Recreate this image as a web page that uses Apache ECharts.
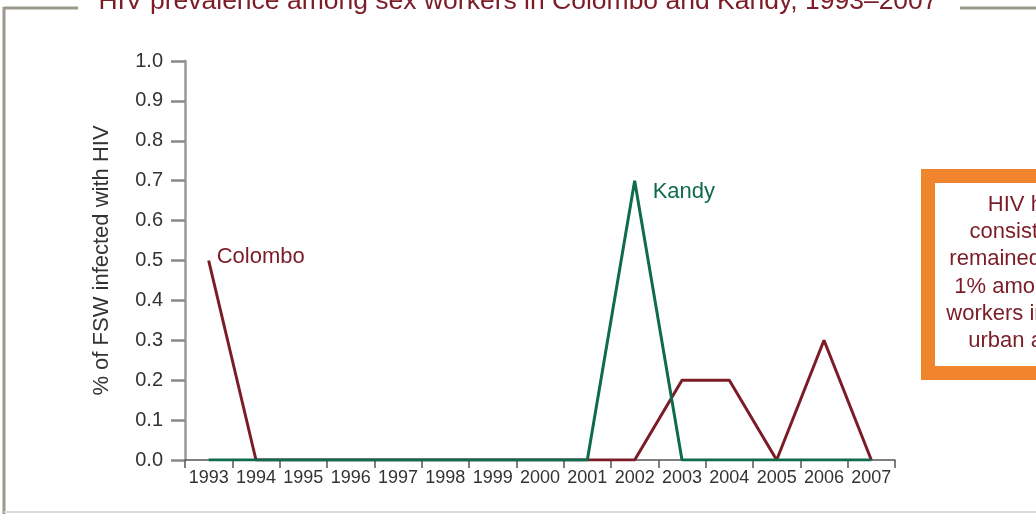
<!DOCTYPE html>
<html>
<head>
<meta charset="utf-8">
<style>
  html, body { margin: 0; padding: 0; background: #fff; }
  #chart { width: 1036px; height: 514px; }
</style>
<script src="https://cdn.jsdelivr.net/npm/echarts@6/dist/echarts.min.js"></script>
</head>
<body>
<div id="chart"></div>
<script>
// data
var years = ['1993', '1994', '1995', '1996', '1997', '1998', '1999', '2000',
             '2001', '2002', '2003', '2004', '2005', '2006', '2007'];
var colombo = [0.5, 0, 0, 0, 0, 0, 0, 0, 0, 0, 0.2, 0.2, 0, 0.3, 0];
var kandy   = [0, 0, 0, 0, 0, 0, 0, 0, 0, 0.7, 0, 0, 0, 0, 0];
var noteLines = ['HIV has', 'consistently', 'remained below', '1% among sex', 'workers in major', 'urban areas'];

var maroon = '#7b1c27';
var green = '#0e6b4c';
var font = '"Liberation Sans", Arial, sans-serif';

var chart = echarts.init(document.getElementById('chart'));

// put a name label on one point of a series
function withLabel(values, idx, text, color, dist, offset) {
  return values.map(function (v, i) {
    if (i !== idx) return v;
    return {
      value: v,
      label: {
        show: true, position: 'right', distance: dist, offset: offset,
        formatter: text, color: color, fontSize: 22, fontFamily: font
      }
    };
  });
}

var graphics = [
  // frame around the figure
  { type: 'line', shape: { x1: 4, y1: 8, x2: 78, y2: 8 }, style: { stroke: '#9c978b', lineWidth: 3 } },
  { type: 'line', shape: { x1: 960, y1: 8, x2: 1036, y2: 8 }, style: { stroke: '#9c978b', lineWidth: 3 } },
  { type: 'line', shape: { x1: 4, y1: 7, x2: 4, y2: 514 }, style: { stroke: '#9c978b', lineWidth: 3 } },
  { type: 'line', shape: { x1: 4, y1: 512, x2: 1036, y2: 512 }, style: { stroke: '#dcdcdc', lineWidth: 2 } },
  {
    type: 'text', x: 518, y: 15,
    style: { text: 'HIV prevalence among sex workers in Colombo and Kandy, 1993\u20132007',
      fill: maroon, font: '26.5px ' + font, textAlign: 'center', textVerticalAlign: 'bottom' }
  },
  // orange note box on the right
  { type: 'rect', shape: { x: 928, y: 176, width: 140, height: 197 },
    style: { fill: '#fff', stroke: '#f0852d', lineWidth: 14 } }
];
noteLines.forEach(function (t, i) {
  graphics.push({
    type: 'text', x: 1027, y: 205 + i * 27.2,
    style: { text: t, fill: maroon, font: '22px ' + font, textAlign: 'center', textVerticalAlign: 'middle' }
  });
});

chart.setOption({
  animation: false,
  backgroundColor: '#fff',
  grid: { left: 185, right: 141, top: 61, bottom: 54 },
  xAxis: {
    type: 'category',
    data: years,
    boundaryGap: true,
    axisLine: { show: true, lineStyle: { color: '#555', width: 1.5 } },
    axisTick: { show: true, interval: 0, length: 8, lineStyle: { color: '#555', width: 1.5 } },
    axisLabel: { interval: 0, margin: 9, color: '#333', fontSize: 18, fontFamily: font }
  },
  yAxis: {
    type: 'value',
    min: 0, max: 1, interval: 0.1,
    name: '% of FSW infected with HIV',
    nameLocation: 'middle',
    nameGap: 72,
    nameTextStyle: { color: '#333', fontSize: 22, fontFamily: font },
    splitLine: { show: false },
    axisLine: { show: true, lineStyle: { color: '#999', width: 2.5 } },
    axisTick: { show: true, length: 14, lineStyle: { color: '#888', width: 2.5 } },
    axisLabel: {
      margin: 22, color: '#333', fontSize: 20, fontFamily: font,
      formatter: function (v) { return v.toFixed(1); }
    }
  },
  series: [
    {
      name: 'Colombo', type: 'line',
      data: withLabel(colombo, 0, 'Colombo', maroon, 8, [0, -4]),
      symbol: 'circle', symbolSize: 0, showSymbol: true,
      itemStyle: { color: maroon },
      lineStyle: { color: maroon, width: 3 }
    },
    {
      name: 'Kandy', type: 'line',
      data: withLabel(kandy, 9, 'Kandy', green, 18, [0, 11]),
      symbol: 'circle', symbolSize: 0, showSymbol: true,
      itemStyle: { color: green },
      lineStyle: { color: green, width: 3 }
    }
  ],
  graphic: graphics
});
</script>
</body>
</html>
